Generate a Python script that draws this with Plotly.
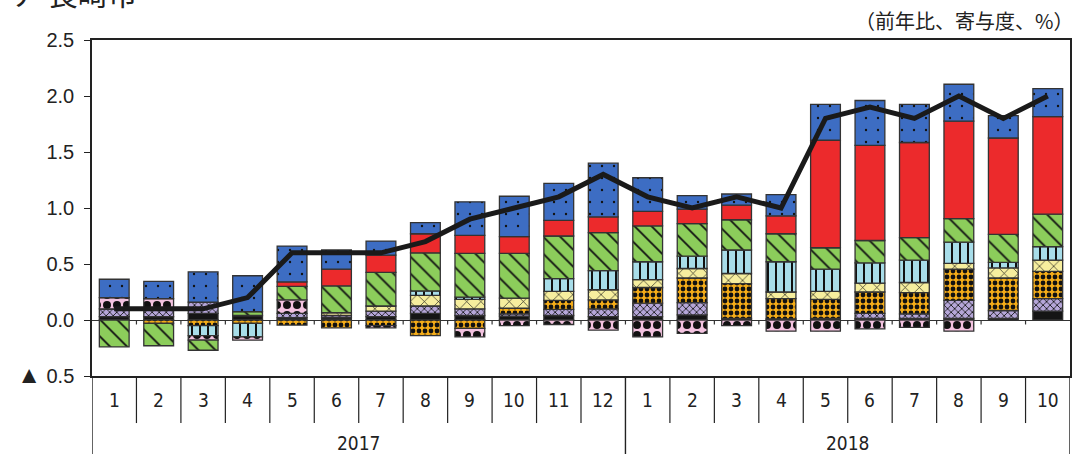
import plotly.graph_objects as go

# Months on the category axis (2017-01 .. 2018-10)
months = ["1", "2", "3", "4", "5", "6", "7", "8", "9", "10", "11", "12",
          "1", "2", "3", "4", "5", "6", "7", "8", "9", "10"]
years = ["2017", "2018"]
year_lengths = [12, 10]

# Contributions by component (percentage points), bottom of stack first
comp_black = [0.03, 0.03, 0.06, 0.04, 0.02, 0.02, 0.03, 0.06, 0.04, 0.035, 0.04, 0.03,
              0.03, 0.045, 0.015, 0.01, 0.015, 0.015, 0.015, 0.015, 0.015, 0.08]
comp_lavender = [0.07, 0.08, 0.10, 0.0, 0.04, 0.02, 0.05, 0.065, 0.06, 0.02, 0.055, 0.07,
                 0.12, 0.11, 0.0, 0.0, 0.0, 0.045, 0.04, 0.16, 0.07, 0.11]
comp_orange = [0.0, -0.03, -0.05, -0.03, -0.045, -0.07, -0.05, -0.14, -0.075, 0.05, 0.08, 0.08,
               0.14, 0.22, 0.31, 0.18, 0.17, 0.19, 0.19, 0.28, 0.29, 0.245]
comp_yellow = [0.0, 0.0, 0.0, 0.0, 0.0, 0.025, 0.045, 0.095, 0.085, 0.09, 0.08, 0.09,
               0.07, 0.085, 0.09, 0.06, 0.07, 0.08, 0.09, 0.05, 0.09, 0.10]
comp_lightblue = [0.0, 0.0, -0.09, -0.12, 0.0, 0.0, 0.0, 0.04, 0.02, 0.0, 0.115, 0.17,
                  0.16, 0.11, 0.21, 0.27, 0.20, 0.18, 0.20, 0.19, 0.05, 0.12]
comp_pink = [0.10, 0.08, -0.04, -0.03, 0.12, 0.0, -0.02, 0.0, -0.075, -0.05, -0.04, -0.09,
             -0.15, -0.12, -0.05, -0.10, -0.10, -0.08, -0.065, -0.10, 0.0, 0.0]
comp_green = [-0.24, -0.20, -0.09, 0.035, 0.12, 0.24, 0.30, 0.34, 0.39, 0.40, 0.38, 0.34,
              0.32, 0.29, 0.27, 0.25, 0.19, 0.20, 0.20, 0.21, 0.25, 0.29]
comp_red = [0.0, 0.0, 0.0, 0.0, 0.04, 0.15, 0.155, 0.17, 0.16, 0.15, 0.14, 0.14,
            0.13, 0.13, 0.13, 0.16, 0.96, 0.85, 0.85, 0.87, 0.86, 0.87]
comp_blue = [0.164, 0.155, 0.27, 0.32, 0.32, 0.17, 0.125, 0.10, 0.30, 0.36, 0.33, 0.48,
             0.30, 0.12, 0.10, 0.19, 0.32, 0.40, 0.34, 0.33, 0.20, 0.25]

# Overall year-on-year change (%)
total = [0.1, 0.1, 0.1, 0.2, 0.6, 0.6, 0.6, 0.7, 0.9, 1.0, 1.1, 1.3,
         1.1, 1.0, 1.1, 1.0, 1.8, 1.9, 1.8, 2.0, 1.8, 2.0]

y_ticks = [-0.5, 0.0, 0.5, 1.0, 1.5, 2.0, 2.5]
y_tick_text = ["<span style='font-size:24px'>▲</span> 0.5", "0.0", "0.5", "1.0", "1.5", "2.0", "2.5"]

x = list(range(len(months)))

# (name, values, fill colour, pattern shape, pattern size, solidity)
components = [
    ("black", comp_black, "#151515", "", 8, 0.3),
    ("lavender", comp_lavender, "#b5a6d8", "x", 5, 0.3),
    ("orange", comp_orange, "#f4ac18", ".", 6, 0.5),
    ("yellow", comp_yellow, "#f6ee9e", "x", 10, 0.12),
    ("lightblue", comp_lightblue, "#a8dde9", "|", 8, 0.25),
    ("pink", comp_pink, "#f2c2df", ".", 10, 0.5),
    ("green", comp_green, "#8ccd5b", "\\", 12, 0.15),
    ("red", comp_red, "#ec2a2c", "", 8, 0.3),
    ("blue", comp_blue, "#3d6dc3", ".", 12, 0.03),
]

fig = go.Figure()
for name, vals, color, shape, size, sol in components:
    pattern = dict(shape=shape, fgcolor="#111111", fgopacity=1, size=size,
                   solidity=sol, fillmode="overlay")
    fig.add_bar(
        x=x, y=vals, name=name,
        marker=dict(color=color, line=dict(color="#333333", width=1.3), pattern=pattern),
    )

fig.add_scatter(x=x, y=total, mode="lines", name="total",
                line=dict(color="#1a1a1a", width=5))

shapes = []
# short tick marks hanging from the zero line between months
for i in range(1, len(months)):
    shapes.append(dict(type="line", xref="x", yref="y", x0=i - 0.5, x1=i - 0.5,
                       y0=0, y1=-0.04, line=dict(color="#333333", width=1.2)))
# month separators below the axis
boundaries = [sum(year_lengths[:k]) for k in range(len(year_lengths) + 1)]
for i in range(1, len(months)):
    if i in boundaries:
        continue
    shapes.append(dict(type="line", xref="x", yref="paper", x0=i - 0.5, x1=i - 0.5,
                       y0=0, y1=-0.14, line=dict(color="#222222", width=1.2)))
# year separators run to the bottom
for b in boundaries:
    shapes.append(dict(type="line", xref="x", yref="paper", x0=b - 0.5, x1=b - 0.5,
                       y0=0, y1=-0.24, line=dict(color="#222222", width=1.4)))

annotations = []
cat_font = dict(family="Liberation Sans Narrow, DejaVu Sans Condensed, Arial Narrow, sans-serif",
                size=19, color="#222222")
for i, m in enumerate(months):
    annotations.append(dict(x=i, y=-0.07, xref="x", yref="paper", text=m,
                            showarrow=False, font=cat_font, xanchor="center", yanchor="middle"))
start = 0
for yr, n in zip(years, year_lengths):
    annotations.append(dict(x=start + (n - 1) / 2, y=-0.2, xref="x", yref="paper", text=yr,
                            showarrow=False, font=cat_font, xanchor="center", yanchor="middle"))
    start += n

annotations.append(dict(x=1.005, y=1.01, xref="paper", yref="paper", xanchor="right", yanchor="bottom",
                        text="（前年比、寄与度、%）", showarrow=False,
                        font=dict(family="Noto Sans CJK JP", size=20, color="#222222")))
annotations.append(dict(x=-0.085, y=1.07, xref="paper", yref="paper", xanchor="left", yanchor="bottom",
                        text="ア 長崎市", showarrow=False,
                        font=dict(family="Noto Sans CJK JP", size=30, color="#222222")))

fig.update_layout(
    width=1074, height=454,
    margin=dict(l=92, r=2, t=40, b=78),
    paper_bgcolor="white", plot_bgcolor="white",
    barmode="relative", bargap=0.33,
    showlegend=False,
    shapes=shapes, annotations=annotations,
    xaxis=dict(range=[-0.5, len(months) - 0.5], showgrid=False, zeroline=False,
               showline=True, mirror=True, linecolor="#222222", linewidth=1.5,
               showticklabels=False, ticks=""),
    yaxis=dict(range=[-0.5, 2.5], tickvals=y_ticks, ticktext=y_tick_text,
               ticks="outside", ticklen=6, tickwidth=1.2, tickcolor="#222222",
               showline=True, mirror=True, linecolor="#222222", linewidth=1.5,
               zeroline=True, zerolinecolor="#333333", zerolinewidth=1.2,
               showgrid=False, ticklabelstandoff=6,
               tickfont=dict(family="Liberation Sans, Arial, sans-serif", size=20, color="#222222")),
)

fig.write_html("out.html")
